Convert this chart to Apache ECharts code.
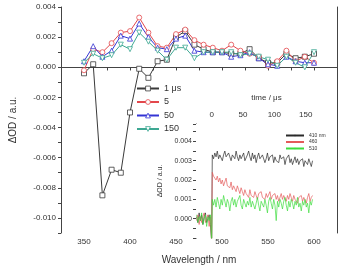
<!DOCTYPE html>
<html>
<head>
<meta charset="utf-8">
<script src="https://cdn.jsdelivr.net/npm/echarts@6/dist/echarts.min.js"></script>
<style>
  html, body { margin: 0; padding: 0; background: #fff; }
  #chart { width: 340px; height: 270px; }
</style>
</head>
<body>
<div id="chart"></div>
<script>
// main spectra (wavelength, nm)
var wavelength = [350,360,370,380,390,400,410,420,430,440,450,460,470,480,490,500,510,520,530,540,550,560,570,580,590,600];
var od1us  = [-0.0004,0.0002,-0.0085,-0.0068,-0.0070,-0.0030,-0.0001,-0.0007,0.0004,0.0005,0.0020,0.0024,0.0015,0.0012,0.0010,0.0010,0.0009,0.0009,0.0012,0.0006,0.0003,0.0003,0.0009,0.0006,0.0007,0.0009];
var od5us  = [-0.0002,0.0012,0.0010,0.0016,0.0023,0.0024,0.0033,0.0023,0.0014,0.0013,0.0022,0.0025,0.0018,0.0015,0.0013,0.0011,0.0015,0.0011,0.0009,0.0007,0.0001,0.0004,0.0011,0.0004,0.0007,0.0003];
var od50us = [0.0004,0.0014,0.0007,0.0011,0.0021,0.0019,0.0029,0.0020,0.0013,0.0012,0.0019,0.0021,0.0011,0.0010,0.0010,0.0010,0.0007,0.0008,0.0010,0.0006,0.0002,0.0001,0.0007,0.0004,0.0003,0.0003];
var od150us = [0.0003,0.0009,0.0006,0.0008,0.0015,0.0012,0.0023,0.0017,0.0011,0.0005,0.0013,0.0013,0.0006,0.0010,0.0010,0.0010,0.0010,0.0008,0.0009,0.0007,0.0005,0.0001,0.0007,0.0003,0.0000,0.0010];
var mainNames = ['1 \u03bcs', '5', '50', '150'];
var mainColors = ['#3a3a3a', '#e3474c', '#3434d4', '#3ea893'];

// inset kinetics (time, us)
var insetTime = [-24,-22,-20,-18,-16,-14,-12,-10,-8,-6,-4,-2,0,1,
  3,5,7,9,11,13,15,17,19,21,23,25,27,29,31,33,35,37,39,41,43,45,47,49,51,53,55,57,59,61,63,65,67,69,71,73,75,77,79,81,83,85,87,89,91,93,95,97,99,
  101,103,105,107,109,111,113,115,117,119,121,123,125,127,129,131,133,135,137,139,141,143,145,147,149,151,153,155,157,159,161,163,165,167,169,171,173,175,177,179,181];
var k410 = [0.0001,-0.0002,0.0003,-0.0001,0.0002,-0.0003,0.0001,0.0003,-0.0002,0.0000,0.0002,-0.0003,-0.0012,0.0033,
  0.0031,0.0034,0.0032,0.0035,0.0031,0.0033,0.0034,0.0030,0.0033,0.0035,0.0032,0.0031,0.0034,0.0032,0.0030,0.0033,0.0034,0.0031,0.0035,0.0032,
  0.0030,0.0033,0.0031,0.0032,0.0034,0.0030,0.0031,0.0033,0.0035,0.0032,0.0030,0.0034,0.0031,0.0033,0.0029,0.0032,0.0034,0.0031,0.0030,0.0033,
  0.0032,0.0029,0.0031,0.0034,0.0030,0.0032,0.0031,0.0033,0.0029,0.0032,0.0030,0.0031,0.0029,0.0033,0.0031,0.0030,0.0032,0.0028,0.0031,0.0030,
  0.0033,0.0029,0.0031,0.0028,0.0030,0.0032,0.0029,0.0031,0.0028,0.0030,0.0029,0.0031,0.0027,0.0030,0.0029,0.0028,0.0031,0.0029,0.0027,0.0030];
var k460 = [-0.0001,0.0002,-0.0003,0.0001,-0.0002,0.0001,0.0003,-0.0002,0.0000,0.0002,-0.0004,0.0001,-0.0012,0.0024,
  0.0022,0.0023,0.0020,0.0022,0.0019,0.0021,0.0018,0.0020,0.0017,0.0019,0.0021,0.0017,0.0018,0.0016,0.0019,0.0015,0.0017,0.0016,0.0014,0.0017,
  0.0015,0.0013,0.0016,0.0014,0.0012,0.0015,0.0013,0.0014,0.0011,0.0015,0.0012,0.0013,0.0011,0.0014,0.0012,0.0010,0.0013,0.0012,0.0014,0.0011,
  0.0012,0.0010,0.0013,0.0011,0.0012,0.0014,0.0010,0.0012,0.0011,0.0013,0.0010,0.0012,0.0009,0.0011,0.0013,0.0010,0.0012,0.0011,0.0009,0.0012,
  0.0010,0.0013,0.0011,0.0009,0.0012,0.0010,0.0011,0.0008,0.0011,0.0010,0.0012,0.0009,0.0011,0.0010,0.0008,0.0011,0.0013,0.0009,0.0011,0.0012];
var k510 = [0.0002,-0.0002,0.0001,-0.0001,0.0003,-0.0003,0.0000,0.0002,-0.0004,0.0001,-0.0001,0.0002,-0.0012,0.0010,
  0.0007,0.0010,0.0006,0.0011,0.0008,0.0005,0.0010,0.0007,0.0012,0.0009,0.0006,0.0010,0.0008,0.0004,0.0009,0.0011,0.0007,0.0010,0.0006,0.0009,
  0.0008,0.0012,0.0007,0.0005,0.0010,0.0008,0.0006,0.0009,0.0007,0.0011,0.0006,0.0009,0.0010,0.0005,0.0008,0.0011,0.0007,0.0004,0.0009,0.0008,
  0.0006,0.0010,0.0007,0.0003,0.0009,0.0011,0.0008,0.0005,0.0010,0.0007,-0.0001,0.0009,0.0006,0.0010,0.0008,0.0005,0.0009,0.0011,0.0007,0.0004,
  0.0009,0.0006,0.0010,0.0008,0.0005,0.0009,0.0007,0.0011,0.0006,0.0008,0.0004,0.0009,0.0007,0.0010,0.0006,0.0008,0.0003,0.0009,0.0007,0.0010];
var insetNames = ['410 nm', '460', '510'];

function pairs(xs, ys) {
    var res = [];
    for (var i = 0; i < xs.length; i++) res.push([xs[i], ys[i]]);
    return res;
}

var axisCol = '#444';
var txtCol = '#333';
var font = 'Liberation Sans';

var chart = echarts.init(document.getElementById('chart'), null, {renderer: 'canvas'});

function spectrum(name, ys, color, symbol, rotate) {
    return {
        name: name, type: 'line', xAxisIndex: 0, yAxisIndex: 0,
        data: pairs(wavelength, ys),
        symbol: symbol, symbolSize: 5, symbolRotate: rotate || 0,
        lineStyle: {color: color, width: 1},
        itemStyle: {color: '#fff', borderColor: color, borderWidth: 0.8},
        animation: false
    };
}
function kinetic(name, ys, color) {
    return {
        name: name, type: 'line', xAxisIndex: 2, yAxisIndex: 2,
        data: pairs(insetTime, ys), symbol: 'none', clip: true,
        lineStyle: {color: color, width: 0.7},
        itemStyle: {color: color},
        animation: false
    };
}

var legendMain = mainNames.map(function (n, i) {
    return {name: n, itemStyle: {color: '#fff', borderColor: mainColors[i], borderWidth: 0.8}};
});

var option = {
    backgroundColor: '#fff',
    animation: false,
    textStyle: {fontFamily: font},
    grid: [
        {left: 53, top: 7, right: 3, bottom: 32},
        {left: 196, top: 124, right: 3, bottom: 32, show: true, backgroundColor: '#fff', borderWidth: 0, z: 3}
    ],
    legend: [
        {
            data: legendMain, orient: 'vertical', left: 131, top: 79,
            itemWidth: 22, itemHeight: 6, itemGap: 4.5,
            textStyle: {fontSize: 9, color: txtCol, fontFamily: font}
        },
        {
            data: insetNames, orient: 'vertical', left: 280, top: 128,
            itemWidth: 18, itemHeight: 2, itemGap: 1.5, z: 10,
            textStyle: {fontSize: 5, color: txtCol, fontFamily: font}
        }
    ],
    xAxis: [
        {
            gridIndex: 0, type: 'value', min: 325, max: 625, interval: 25,
            name: 'Wavelength / nm', nameLocation: 'middle', nameGap: 22,
            nameTextStyle: {fontSize: 10, color: txtCol},
            axisLine: {lineStyle: {color: axisCol}},
            axisTick: {length: 3, lineStyle: {color: axisCol}},
            axisLabel: {fontSize: 8, color: txtCol, margin: 5,
                formatter: function (v) { return (v % 50 === 0 && v >= 350 && v <= 600) ? String(v) : ''; }},
            splitLine: {show: false}
        },
        {
            gridIndex: 0, type: 'value', position: 'top', min: 325, max: 625, interval: 25,
            axisLine: {lineStyle: {color: axisCol}},
            axisTick: {inside: true, length: 3, lineStyle: {color: axisCol}},
            axisLabel: {show: false}, splitLine: {show: false}
        },
        {
            gridIndex: 1, type: 'value', position: 'top', min: -25, max: 200, interval: 25,
            name: 'time / \u03bcs', nameLocation: 'middle', nameGap: 22,
            nameTextStyle: {fontSize: 8, color: txtCol},
            axisLine: {onZero: false, lineStyle: {color: axisCol}},
            axisTick: {inside: true, length: 3, lineStyle: {color: axisCol}},
            axisLabel: {fontSize: 8, color: txtCol, margin: 5,
                formatter: function (v) { return (v % 50 === 0 && v >= 0 && v <= 150) ? String(v) : ''; }},
            splitLine: {show: false}
        }
    ],
    yAxis: [
        {
            gridIndex: 0, type: 'value', min: -0.011, max: 0.004, interval: 0.001,
            name: '\u0394OD / a.u.', nameLocation: 'middle', nameGap: 43,
            nameTextStyle: {fontSize: 10, color: txtCol},
            axisLine: {show: true, lineStyle: {color: axisCol}},
            axisTick: {length: 3, lineStyle: {color: axisCol}},
            axisLabel: {fontSize: 8, color: txtCol, margin: 5,
                formatter: function (v) {
                    var k = Math.round(v * 1000);
                    return (k % 2 === 0 && k >= -10) ? (k / 1000).toFixed(3) : '';
                }},
            splitLine: {show: false}
        },
        {
            gridIndex: 0, type: 'value', position: 'right', min: -0.011, max: 0.004,
            axisLine: {show: true, lineStyle: {color: axisCol}},
            axisTick: {show: false}, axisLabel: {show: false}, splitLine: {show: false}
        },
        {
            gridIndex: 1, type: 'value', min: -0.001, max: 0.0049, interval: 0.0005,
            name: '\u0394OD / a.u.', nameLocation: 'middle', nameGap: 32,
            nameTextStyle: {fontSize: 7, color: txtCol},
            axisLine: {show: true, onZero: false, lineStyle: {color: axisCol}},
            axisTick: {length: 3, lineStyle: {color: axisCol}},
            axisLabel: {fontSize: 7, color: txtCol, margin: 4,
                formatter: function (v) {
                    var k = Math.round(v * 2000);
                    return (k % 2 === 0 && k >= 0 && k <= 8) ? (k / 2000).toFixed(3) : '';
                }},
            splitLine: {show: false}
        }
    ],
    series: [
        spectrum(mainNames[0], od1us, mainColors[0], 'rect'),
        spectrum(mainNames[1], od5us, mainColors[1], 'circle'),
        spectrum(mainNames[2], od50us, mainColors[2], 'triangle'),
        spectrum(mainNames[3], od150us, mainColors[3], 'triangle', 180),
        kinetic(insetNames[0], k410, '#2a2a2a'),
        kinetic(insetNames[1], k460, '#e45a5a'),
        kinetic(insetNames[2], k510, '#3ddc3d')
    ]
};
chart.setOption(option);
</script>
</body>
</html>
